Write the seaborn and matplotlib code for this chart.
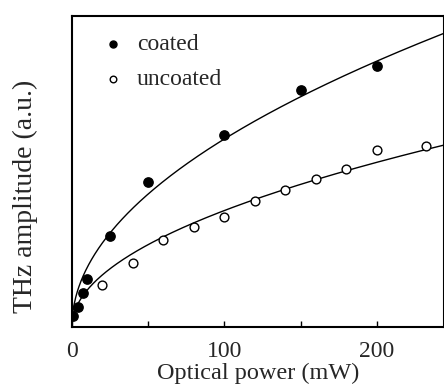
import numpy as np
import pandas as pd
import matplotlib
matplotlib.use("Agg")
import matplotlib.pyplot as plt
import seaborn as sns

coated_x = [1, 4, 7, 10, 25, 50, 100, 150, 200]
coated_y = [11, 20, 34, 48, 91, 145, 192, 237, 261]
uncoated_x = [20, 40, 60, 80, 100, 120, 140, 160, 180, 200, 232]
uncoated_y = [42, 64, 87, 100, 110, 126, 137, 148, 158, 177, 181]
series = ["coated", "uncoated"]
xticks = [0, 100, 200]

sns.set_theme(style="white")
plt.rcParams["font.family"] = ["Liberation Serif", "DejaVu Serif"]

fig = plt.figure(figsize=(4.44, 3.92), dpi=100)
ax = fig.add_axes([0.162, 0.166, 0.838, 0.793])


def sqrt_fit(xs, ys):
    # least-squares fit of y = a * sqrt(x)
    f = np.sqrt(np.asarray(xs, float))
    a = (f @ np.asarray(ys, float)) / (f @ f)
    xf = np.linspace(0, 250, 500)
    return xf, a * np.sqrt(xf)


for xs, ys in [(coated_x, coated_y), (uncoated_x, uncoated_y)]:
    xf, yf = sqrt_fit(xs, ys)
    sns.lineplot(x=xf, y=yf, ax=ax, color="black", lw=1.0)

df_c = pd.DataFrame({"x": coated_x, "y": coated_y})
df_u = pd.DataFrame({"x": uncoated_x, "y": uncoated_y})
sns.scatterplot(data=df_c, x="x", y="y", ax=ax, color="black", s=45,
                edgecolor="black", linewidth=1, label=series[0], zorder=3)
sns.scatterplot(data=df_u, x="x", y="y", ax=ax, facecolor="white", s=40,
                edgecolor="black", linewidth=1, label=series[1], zorder=3)

ax.set_xlim(0, 244)
ax.set_ylim(0, 311)
ax.set_xticks(xticks)
ax.set_xticks([50, 150], minor=True)
ax.set_yticks([])
ax.tick_params(axis="x", which="both", direction="in", length=4, width=1,
               color="black", labelsize=17, pad=10, bottom=True)
for s in ax.spines.values():
    s.set_color("black")
    s.set_linewidth(1.5)
ax.set_xlabel("Optical power (mW)", fontsize=17.5, labelpad=1)
ax.set_ylabel("THz amplitude (a.u.)", fontsize=20)
ax.yaxis.set_label_coords(-0.09, 0.42)

leg = ax.legend(loc="upper left", frameon=False, fontsize=17,
                handletextpad=0.53, borderaxespad=0, labelspacing=0.58,
                handlelength=1.0, markerscale=0.75,
                bbox_to_anchor=(0.052, 0.975))
fig.savefig("out.png", dpi=100)
